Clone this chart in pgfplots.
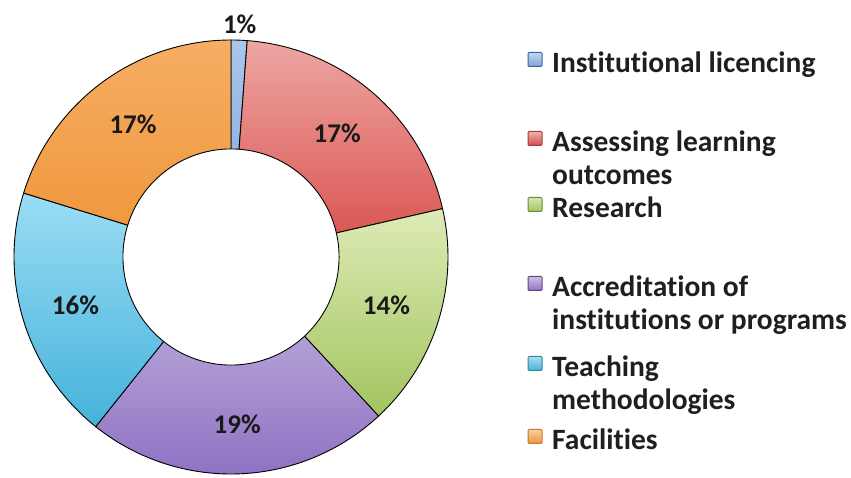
\documentclass[border=0pt]{standalone}
\usepackage{fontspec}
\setmainfont{Carlito}[Ligatures={NoCommon}]
\usepackage{pgfplots}
\usepackage{pgfplotstable}
\pgfplotsset{compat=1.18}

\definecolor{blueT}{HTML}{A9C6EC}\definecolor{blueB}{HTML}{7DA5DA}
\definecolor{redT}{HTML}{EEA6A3}\definecolor{redB}{HTML}{D84E4B}
\definecolor{greenT}{HTML}{DDEBB6}\definecolor{greenB}{HTML}{A3C45E}
\definecolor{purpleT}{HTML}{C8BBE1}\definecolor{purpleB}{HTML}{8F72C3}
\definecolor{cyanT}{HTML}{9ADDF5}\definecolor{cyanB}{HTML}{45B2DA}
\definecolor{orangeT}{HTML}{F6AE64}\definecolor{orangeB}{HTML}{EF9437}
\definecolor{blueD}{HTML}{3B64A0}\definecolor{redD}{HTML}{A0403D}
\definecolor{greenD}{HTML}{6F8A3A}\definecolor{purpleD}{HTML}{5D467A}
\definecolor{cyanD}{HTML}{2F8AA0}\definecolor{orangeD}{HTML}{C87530}

\pgfplotstableread{
label value
Institutional 1
Assessing 17
Research 14
Accreditation 19
Teaching 16
Facilities 17
}\donut

\def\total{0}
\pgfplotsforeachungrouped \i in {0,...,5}{%
  \pgfplotstablegetelem{\i}{value}\of\donut
  \pgfmathsetmacro\total{\total+\pgfplotsretval}}
\def\cum{0}
\pgfplotsforeachungrouped \i in {0,...,5}{%
  \pgfplotstablegetelem{\i}{value}\of\donut
  \expandafter\let\csname v\i\endcsname\pgfplotsretval
  \pgfmathsetmacro\s{90-\cum/\total*360}%
  \pgfmathsetmacro\cum{\cum+\pgfplotsretval}%
  \pgfmathsetmacro\e{90-\cum/\total*360}%
  \pgfmathsetmacro\m{(\s+\e)/2}%
  \expandafter\let\csname s\i\endcsname\s
  \expandafter\let\csname e\i\endcsname\e
  \expandafter\let\csname m\i\endcsname\m
}

\newcommand\donutwedge[3]{%
  \edef\tmp{\noexpand\addplot[draw=black, line width=0.9pt, top color=#2, bottom color=#3,
    domain=\csname e#1\endcsname:\csname s#1\endcsname, samples=90]
    ({cos(x)},{sin(x)}) -- (axis cs:0,0) -- cycle;}\tmp}
\newcommand\donutlabel[2]{%
  \edef\tmp{\noexpand\node[font=\noexpand\bfseries\noexpand\fontsize{27}{27}\noexpand\selectfont, text=black!90]
    at (axis cs:{#2*cos(\csname m#1\endcsname)},{#2*sin(\csname m#1\endcsname)}) {\csname v#1\endcsname\noexpand\%};}\tmp}

\newcommand\legitem[5]{% y-baseline, fill, border, line1, line2
  \shade[top color=#2!45!white, bottom color=#2, draw=#3, line width=1pt, rounded corners=1pt]
    (297pt,{#1+6.5pt}) rectangle (311pt,{#1+20.5pt});
  \node[anchor=base west, inner sep=0pt, font=\bfseries\fontsize{29.5}{29.5}\selectfont, text=black!88] at (321pt,#1) {#4};
  \node[anchor=base west, inner sep=0pt, font=\bfseries\fontsize{29.5}{29.5}\selectfont, text=black!88] at (321pt,{#1-33pt}) {#5};
}

\begin{document}
\begin{tikzpicture}
\useasboundingbox (-231pt,-221pt) rectangle (620pt,257pt);
\begin{axis}[
  at={(0pt,0pt)}, anchor=center,
  scale only axis, width=434pt, height=434pt,
  xmin=-1, xmax=1, ymin=-1, ymax=1,
  hide axis, clip=false,
  trig format plots=deg,
]
\donutwedge{0}{blueT}{blueB}
\donutwedge{1}{redT}{redB}
\donutwedge{2}{greenT}{greenB}
\donutwedge{3}{purpleT}{purpleB}
\donutwedge{4}{cyanT}{cyanB}
\donutwedge{5}{orangeT}{orangeB}
\addplot[fill=white, draw=black, line width=0.9pt, domain=0:360, samples=160]
  ({0.498*cos(x)},{0.498*sin(x)}) -- cycle;
\donutlabel{0}{1.075}
\donutlabel{1}{0.75}
\donutlabel{2}{0.75}
\donutlabel{3}{0.77}
\donutlabel{4}{0.75}
\donutlabel{5}{0.76}
\end{axis}
\legitem{184pt}{blueB}{blueD}{Institutional licencing}{}
\legitem{105pt}{redB}{redD}{Assessing learning}{outcomes}
\legitem{39pt}{greenB}{greenD}{Research}{}
\legitem{-40pt}{purpleB}{purpleD}{Accreditation of}{institutions or programs}
\legitem{-120pt}{cyanB}{cyanD}{Teaching}{methodologies}
\legitem{-193pt}{orangeB}{orangeD}{Facilities}{}
\end{tikzpicture}
\end{document}
